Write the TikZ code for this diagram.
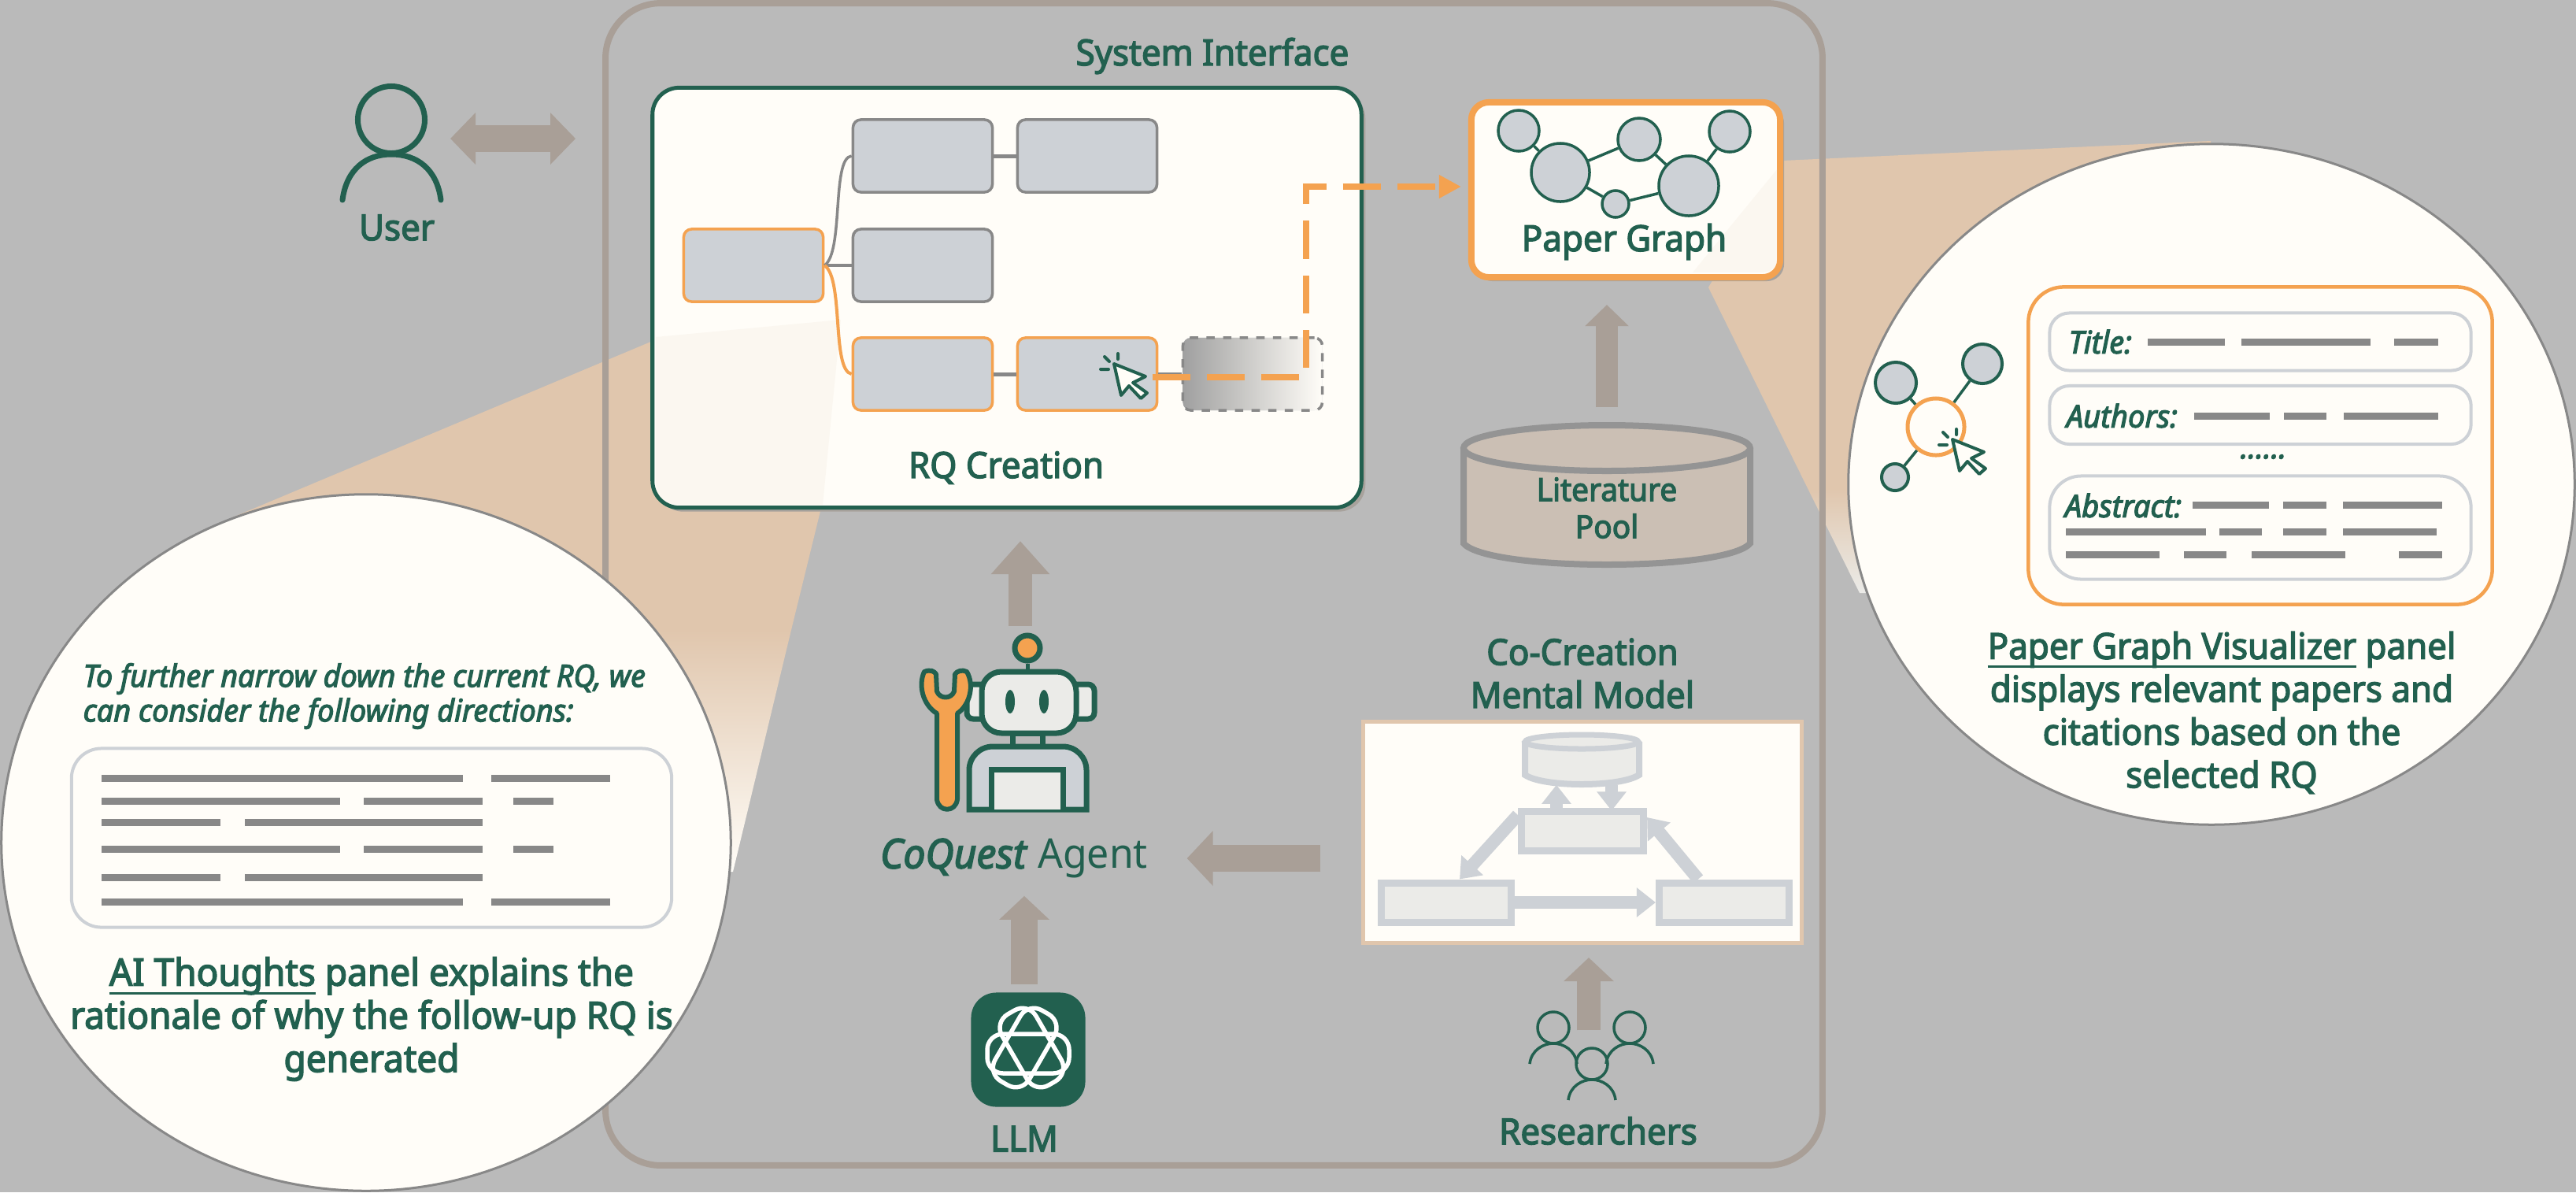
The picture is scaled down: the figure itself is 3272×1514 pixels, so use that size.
\documentclass[tikz,border=0pt]{standalone}
\usepackage{fontspec}
\setmainfont[FakeStretch=0.96,FakeBold=3]{Noto Sans}
\newfontfamily\regularfont[FakeStretch=0.96]{Noto Sans}
\usetikzlibrary{shapes.geometric, arrows.meta, positioning, calc, shadows}
\definecolor{bggray}{HTML}{BABABA}
\definecolor{coqgreen}{HTML}{22604F}
\definecolor{coqorange}{HTML}{F4A250}
\definecolor{frametaupe}{HTML}{A99F97}
\definecolor{beampeach}{HTML}{E0C6AD}
\definecolor{papercream}{HTML}{FFFDF8}
\definecolor{boxgray}{HTML}{CDD1D6}
\definecolor{linegray}{HTML}{888888}
\definecolor{softgray}{HTML}{EBEBE8}
\definecolor{castgray}{HTML}{A8A29C}
\newcommand{\capunder}[1]{\leavevmode\setbox0\hbox{#1}\dp0=0pt\vtop{\box0\kern2.4pt\hrule height .8pt}}
\tikzset{
  labeltext/.style={text=coqgreen, inner sep=0pt, align=center, font=\fontsize{13}{15.5}\selectfont},
  rqbox/.style={draw=linegray, fill=boxgray, line width=.035cm, rounded corners=.1cm, minimum width=1.77cm, minimum height=.92cm},
  rqpick/.style={rqbox, draw=coqorange},
  softbox/.style={draw=boxgray, fill=softgray, line width=.09cm, minimum width=1.65cm, minimum height=.5cm},
  slotbox/.style={draw=boxgray, line width=.04cm, fill=papercream},
  graphdot/.style={circle, draw=coqgreen, fill=boxgray, line width=.035cm, inner sep=0pt},
  greenedge/.style={draw=coqgreen, line width=.035cm},
  bigarrow/.style={draw=frametaupe, line width=.3cm, -{Triangle[length=.3cm,width=.62cm]}},
  softarrow/.style={draw=boxgray, line width=.16cm, -{Triangle[length=.24cm,width=.36cm]}},
  textbar/.style={draw=linegray, line width=.09cm},
  clickcursor/.pic={
    \draw[coqgreen, fill=papercream, line width=.04cm, line join=round] (0,0) -- (40,16) -- (24,24) -- (42,37) -- (34,44) -- (19,28) -- (9,40) -- cycle;
    \draw[coqgreen, line width=.04cm, line cap=round] (-17,7) -- (-7,7) (-12,-9) -- (-6,-3) (5,-13) -- (5,-6);
  }
}
\begin{document}
\begin{tikzpicture}[x=.01cm, y=-.01cm]
  \useasboundingbox (0,0) rectangle (3272,1514);
  \fill[bggray] (0,0) rectangle (3272,1514);

  \fill[beampeach] (293,658) -- (829,433) -- (1043,645) -- (1005,800) -- (300,800) -- cycle;
  \shade[top color=beampeach, bottom color=papercream] (300,800) -- (1005,800) -- (931,1107) -- (300,1107) -- cycle;
  \fill[beampeach] (2264,204) -- (2808,179) -- (2808,620) -- (2296,620) -- (2170,365) -- cycle;
  \shade[top color=beampeach, bottom color=softgray] (2296,620) -- (2600,620) -- (2600,753) -- (2362,753) -- cycle;

  \node[draw=frametaupe, line width=.08cm, rounded corners=.7cm, minimum width=15.45cm, minimum height=14.75cm] (system) at (1542,742) {};
  \node[labeltext] (systemlabel) at (1540,71) {System Interface};

  \node[draw=coqgreen, fill=papercream, line width=.05cm, rounded corners=.34cm, minimum width=9cm, minimum height=5.33cm, general shadow={fill=castgray, shadow xshift=.05cm, shadow yshift=-.05cm}] (rqpanel) at (1279,378) {};
  \fill[beampeach, opacity=.1] (833,428) -- (1068,406) -- (1045,641) -- (860,641) .. controls (845,641) and (833,630) .. (833,615) -- cycle;
  \node[labeltext] (rqlabel) at (1278,594) {RQ Creation};

  \node[rqpick] (rqA) at (957,337) {};
  \node[rqbox] (rqB) at (1172,198) {};
  \node[rqbox] (rqC) at (1381,198) {};
  \node[rqbox] (rqD) at (1172,337) {};
  \node[rqpick] (rqE) at (1172,475) {};
  \node[rqpick] (rqF) at (1381,475) {};
  \node[rqbox, draw=linegray, dashed, left color=linegray!80, right color=papercream] (rqG) at (1591,475) {};
  \draw[draw=linegray, line width=.035cm] (rqA.east) .. controls (1072,320) and (1056,200) .. (rqB.west);
  \draw[draw=linegray, line width=.035cm] (rqA.east) -- (rqD.west);
  \draw[draw=coqorange, line width=.04cm] (rqA.east) .. controls (1072,354) and (1056,470) .. (rqE.west);
  \draw[draw=linegray, line width=.05cm] (rqB) -- (rqC);
  \draw[draw=linegray, line width=.05cm] (rqE) -- (rqF);
  \draw[draw=linegray, line width=.05cm] (rqF) -- (rqG);
  \pic at (1415,462) {clickcursor};

  \node[draw=coqorange, fill=papercream, line width=.08cm, rounded corners=.22cm, minimum width=3.92cm, minimum height=2.22cm, general shadow={fill=castgray, shadow xshift=.05cm, shadow yshift=-.05cm}] (graph) at (2065,241) {};
  \fill[beampeach, opacity=.1] (2258,214) -- (2150,346) -- (2238,346) .. controls (2250,346) and (2258,338) .. (2258,326) -- cycle;
  \node[graphdot, minimum size=.52cm] (dotA) at (1929,166) {};
  \node[graphdot, minimum size=.74cm] (dotB) at (1982,219) {};
  \node[graphdot, minimum size=.54cm] (dotC) at (2082,177) {};
  \node[graphdot, minimum size=.76cm] (dotD) at (2145,236) {};
  \node[graphdot, minimum size=.52cm] (dotE) at (2197,167) {};
  \node[graphdot, minimum size=.34cm] (dotF) at (2052,259) {};
  \foreach \a/\b in {dotA/dotB, dotB/dotC, dotC/dotD, dotD/dotE, dotB/dotF, dotF/dotD}
    \draw[greenedge] (\a) -- (\b);
  \node[labeltext] (graphlabel) at (2063,307) {Paper Graph};

  \draw[draw=coqorange, line width=.08cm, dash pattern=on .48cm off .21cm, -{Triangle[length=.28cm,width=.28cm]}, shorten >=.09cm] ([xshift=-.07cm,yshift=-.04cm]rqF.east) -| (1659,237) -- (1659,237 -| graph.west);

  \node[minimum width=3.72cm, minimum height=1.82cm, inner sep=0pt] (pool) at (2041,627) {};
  \draw[draw=linegray!90, fill=beampeach!45!bggray, line width=.08cm] (1859,569) -- (1859,690) .. controls (1890,726) and (2192,726) .. (2223,690) -- (2223,569);
  \draw[draw=linegray!90, fill=beampeach!45!bggray, line width=.08cm] (2041,569) ellipse [x radius=182, y radius=29];
  \node[labeltext, font=\fontsize{11.5}{13.4}\selectfont] (poollabel) at (2041,645) {Literature\\Pool};
  \draw[bigarrow, line width=.28cm, -{Triangle[length=.27cm,width=.54cm]}] ([yshift=.18cm]pool.north) -- ([yshift=-.31cm]pool.north |- graph.south);

  \node[circle, draw=coqgreen, line width=.07cm, minimum size=.85cm, inner sep=0pt] (userhead) at (497,152) {};
  \draw[draw=coqgreen, line width=.07cm, line cap=round] (435,254) .. controls (440,215) and (465,196) .. (497,196) .. controls (530,196) and (555,215) .. (560,254);
  \node[labeltext] (userlabel) at (504,289) {User};
  \draw[bigarrow, {Triangle[length=.32cm,width=.64cm]}-{Triangle[length=.32cm,width=.64cm]}, line width=.34cm, shorten <=.29cm, shorten >=.34cm] ([yshift=-.24cm]userhead.east) -- ([yshift=-.24cm]userhead.east -| system.west);

  \node[circle, draw=coqgreen, fill=coqorange, line width=.07cm, minimum size=.32cm, inner sep=0pt] (antenna) at (1305,823) {};
  \draw[draw=coqgreen, line width=.05cm] (antenna) -- (1305,853);
  \draw[draw=coqgreen, fill=softgray, line width=.07cm, rounded corners=.08cm] (1228,869) rectangle (1390,913);
  \draw[draw=coqgreen, fill=softgray, line width=.07cm, rounded corners=.25cm] (1247,853) rectangle (1367,931);
  \fill[coqgreen] (1283,891) ellipse [x radius=6, y radius=15];
  \fill[coqgreen] (1326,891) ellipse [x radius=6, y radius=15];
  \draw[draw=coqgreen, fill=linegray!60, line width=.07cm] (1286,931) rectangle (1324,948);
  \draw[draw=coqgreen, fill=boxgray, line width=.07cm, rounded corners=.3cm] (1231,1028) -- (1231,948) -- (1380,948) [sharp corners] -- (1380,1028) -- cycle;
  \draw[draw=coqgreen, fill=softgray, line width=.07cm] (1259,1028) -- (1259,977) -- (1350,977) -- (1350,1028);
  \draw[draw=coqgreen, fill=coqorange, line width=.06cm, line join=round] (1190,1015) -- (1190,906) .. controls (1172,895) and (1166,870) .. (1174,853) .. controls (1182,850) and (1186,852) .. (1189,856) -- (1190,878) .. controls (1194,888) and (1208,888) .. (1212,878) -- (1213,856) .. controls (1216,852) and (1222,850) .. (1228,853) .. controls (1238,870) and (1232,895) .. (1216,906) -- (1216,1015) .. controls (1214,1032) and (1192,1032) .. (1190,1015) -- cycle;
  \node[labeltext, font=\fontsize{14.8}{17}\selectfont] (agentlabel) at (1288,1090) {\textit{CoQuest} {\regularfont Agent}};
  \draw[bigarrow, line width=.3cm, -{Triangle[length=.42cm,width=.72cm]}, shorten <=.09cm] ([xshift=-.09cm]antenna.north) -- ([xshift=-.09cm,yshift=-.4cm]antenna.north |- rqpanel.south);

  \node[fill=coqgreen, rounded corners=.32cm, minimum width=1.45cm, minimum height=1.45cm] (llm) at (1306,1333) {};
  \foreach \a in {0,120,240}
    \draw[draw=white, line width=.055cm, rounded corners=.2cm, rotate around={\a:(1306,1333)}] (1254,1313) rectangle (1358,1363);
  \node[labeltext] (llmlabel) at (1301,1446) {LLM};
  \draw[bigarrow, line width=.34cm, shorten <=.1cm, shorten >=.22cm] ([xshift=-.05cm]llm.north) -- ([xshift=-.05cm]llm.north |- agentlabel.south);

  \node[labeltext] (mentallabel) at (2010,855) {Co-Creation\\Mental Model};
  \node[draw=beampeach, fill=papercream, line width=.05cm, minimum width=5.56cm, minimum height=2.81cm] (mental) at (2010,1057) {};
  \node[minimum width=1.45cm, minimum height=.62cm, inner sep=0pt] (mcyl) at (2009,965) {};
  \draw[draw=boxgray, fill=softgray, line width=.08cm] (1937,942) -- (1937,984) .. controls (1960,1000) and (2058,1000) .. (2082,984) -- (2082,942);
  \draw[draw=boxgray, fill=softgray, line width=.07cm] (2009,942) ellipse [x radius=72, y radius=9];
  \node[softbox, minimum width=1.55cm] (mcenter) at (2010,1055) {};
  \node[softbox] (mleft) at (1837,1146) {};
  \node[softbox] (mright) at (2190,1146) {};
  \draw[softarrow] ([xshift=-.33cm,yshift=-.04cm]mcenter.north) -- ([xshift=-.33cm]mcenter.north |- mcyl.south);
  \draw[softarrow] ([xshift=.37cm]mcenter.north |- mcyl.south) -- ([xshift=.37cm,yshift=-.04cm]mcenter.north);
  \draw[softarrow] ([yshift=.2cm]mcenter.west) -- ([xshift=.17cm]mleft.north);
  \draw[softarrow] ([xshift=-.33cm]mright.north) -- ([yshift=.17cm]mcenter.east);
  \draw[softarrow] (mleft.east) -- (mright.west);
  \draw[bigarrow, line width=.34cm, -{Triangle[length=.33cm,width=.68cm]}, shorten <=.52cm, shorten >=.49cm] (mental.west |- agentlabel) -- (agentlabel.east);

  \foreach \n/\x/\y in {headA/1973/1305, headB/2070/1305, headC/2022/1351} {
    \node[circle, draw=coqgreen, line width=.035cm, minimum size=.4cm, inner sep=0pt] (\n) at (\x,\y) {};
    \draw[draw=coqgreen, line width=.035cm, shift={(\x,\y)}] (-30,46) .. controls (-28,28) and (-12,20) .. (0,20) .. controls (12,20) and (28,28) .. (30,46);
  }
  \node[labeltext] (researcherlabel) at (2030,1436) {Researchers};
  \draw[bigarrow, shorten <=.21cm, shorten >=.16cm] ([xshift=-.04cm]headC.north) -- ([xshift=-.04cm]headC.north |- mental.south);

  \node[ellipse, draw=linegray, fill=papercream, line width=.03cm, minimum width=9.26cm, minimum height=8.84cm, inner sep=0pt] (thoughts) at (465,1070) {};
  \node[labeltext, anchor=west, align=left, font=\fontsize{11.2}{12.5}\selectfont\itshape] (thoughtshead) at (105,884) {To further narrow down the current RQ, we\\can consider the following directions:};
  \node[slotbox, rounded corners=.38cm, minimum width=7.62cm, minimum height=2.27cm] (thoughtsbox) at (472,1064) {};
  \foreach \y/\a/\b in {988/129/588, 988/624/775, 1017/129/432, 1017/462/613, 1017/652/703, 1044/129/280, 1044/311/613, 1078/129/432, 1078/462/613, 1078/652/703, 1114/129/280, 1114/311/613, 1145/129/588, 1145/624/775}
    \draw[textbar] (\a,\y) -- (\b,\y);
  \node[labeltext, font=\fontsize{13.6}{15.6}\selectfont] (thoughtscap) at (472,1294) {\capunder{AI Thoughts} panel explains the\\rationale of why the follow-up RQ is\\generated};

  \node[ellipse, draw=linegray, fill=papercream, line width=.03cm, minimum width=9.22cm, minimum height=8.64cm, inner sep=0pt] (visual) at (2809,615) {};
  \node[draw=coqorange, fill=papercream, line width=.045cm, rounded corners=.45cm, minimum width=5.89cm, minimum height=4.03cm] (cardbox) at (2871,566) {};
  \node[slotbox, rounded corners=.25cm, minimum width=5.35cm, minimum height=.73cm] (titleslot) at (2871,434) {};
  \node[slotbox, rounded corners=.25cm, minimum width=5.35cm, minimum height=.74cm] (authorslot) at (2871,527) {};
  \node[slotbox, rounded corners=.4cm, minimum width=5.35cm, minimum height=1.31cm] (abstractslot) at (2871,670) {};
  \node[labeltext, anchor=west, font=\fontsize{11.3}{13}\selectfont\itshape] (titletext) at (2627,434) {Title:};
  \node[labeltext, anchor=west, font=\fontsize{11.3}{13}\selectfont\itshape] (authortext) at (2624,528) {Authors:};
  \node[labeltext, anchor=west, font=\fontsize{11.3}{13}\selectfont\itshape] (abstracttext) at (2622,642) {Abstract:};
  \node[labeltext, font=\fontsize{11.3}{13}\selectfont\itshape] (moredots) at (2875,580) {......};
  \foreach \y/\a/\b in {434/2728/2826, 434/2847/3011, 434/3041/3097, 528/2787/2883, 528/2901/2955, 528/2977/3097, 641/2785/2882, 641/2900/2955, 641/2976/3102, 675/2624/2802, 675/2819/2873, 675/2900/2955, 675/2976/3095, 704/2624/2743, 704/2774/2828, 704/2860/2979, 704/3047/3102}
    \draw[textbar] (\a,\y) -- (\b,\y);
  \node[circle, draw=coqorange, fill=papercream, line width=.05cm, minimum size=.72cm, inner sep=0pt] (hubdot) at (2459,542) {};
  \node[graphdot, line width=.04cm, minimum size=.52cm] (leafA) at (2408,486) {};
  \node[graphdot, line width=.04cm, minimum size=.5cm] (leafB) at (2518,462) {};
  \node[graphdot, line width=.04cm, minimum size=.34cm] (leafC) at (2407,606) {};
  \foreach \b in {leafA, leafB, leafC}
    \draw[greenedge] (hubdot) -- (\b);
  \pic at (2480,558) {clickcursor};
  \node[labeltext] (visualcap) at (2822,905) {\capunder{Paper Graph Visualizer} panel\\displays relevant papers and\\citations based on the\\selected RQ};
\end{tikzpicture}
\end{document}
